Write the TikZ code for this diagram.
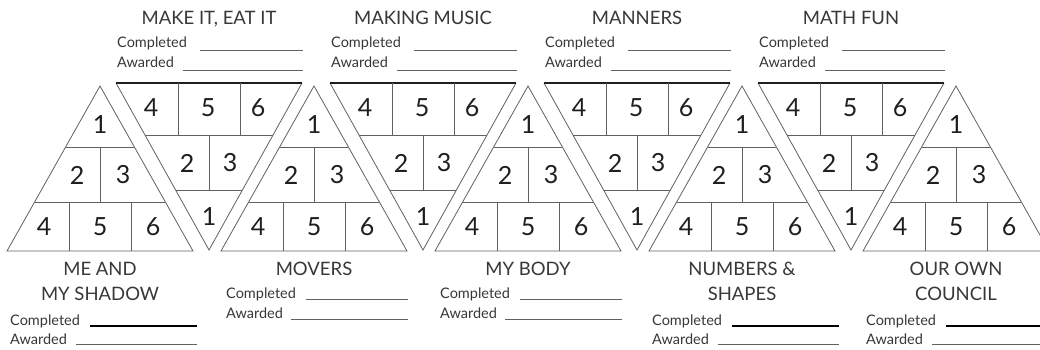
\documentclass[tikz,border=0pt]{standalone}
\usepackage{fontspec}
\setmainfont{Lato}
\definecolor{ln}{gray}{0.38}
\definecolor{tx}{gray}{0.22}
\definecolor{dg}{gray}{0.12}
\begin{document}
\begin{tikzpicture}[x=1pt,y=-1pt,
  tri/.style={draw=ln,line width=0.8pt,line join=miter},
  cell/.style={draw=ln,line width=0.8pt},
  topedge/.style={draw=dg,line width=1.6pt},
  digit/.style={text=dg,font=\fontsize{25}{25}\selectfont,inner sep=0pt},
  ttl/.style={text=tx,font=\fontsize{18.5}{18.5}\selectfont,inner sep=0pt,anchor=base},
  lab/.style={text=tx,font=\fontsize{14.5}{14.5}\selectfont,inner sep=0pt,anchor=base west},
  rule/.style={draw=ln,line width=0.8pt},
  boldrule/.style={draw=black,line width=1.5pt}]
\useasboundingbox (0,0) rectangle (1040,350);
\fill[white] (0,0) rectangle (1040,350);
\clip (0,0) rectangle (1040,350);
% upward triangles
\foreach \k in {0,...,4}{
  \pgfmathsetmacro\c{100+214*\k}
  \draw[tri] (\c-93,251) -- (\c,86) -- (\c+93,251) -- cycle;
  \draw[cell] (\c-34.4,147) -- (\c+34.4,147);
  \draw[cell] (\c-65.4,202) -- (\c+65.4,202);
  \draw[cell] (\c,147) -- (\c,202);
  \draw[cell] (\c-31,202) -- (\c-31,251);
  \draw[cell] (\c+31,202) -- (\c+31,251);
  \node[digit] (u\k a) at (\c,125) {1};
  \node[digit] (u\k b) at (\c-23,175) {2};
  \node[digit] (u\k c) at (\c+23,175) {3};
  \node[digit] (u\k d) at (\c-56,227) {4};
  \node[digit] (u\k e) at (\c,227) {5};
  \node[digit] (u\k f) at (\c+53,227) {6};
}
% downward triangles
\foreach \k in {0,...,3}{
  \pgfmathsetmacro\c{209+214*\k}
  \draw[tri] (\c-93,83) -- (\c,250) -- (\c+93,83);
  \draw[topedge] (\c-93,83) -- (\c+93,83);
  \draw[cell] (\c-64,135) -- (\c+64,135);
  \draw[cell] (\c-33.4,190) -- (\c+33.4,190);
  \draw[cell] (\c-31,83) -- (\c-31,135);
  \draw[cell] (\c+31,83) -- (\c+31,135);
  \draw[cell] (\c,135) -- (\c,190);
  \node[digit] (d\k d) at (\c-58,108) {4};
  \node[digit] (d\k e) at (\c-1,108) {5};
  \node[digit] (d\k f) at (\c+49,108) {6};
  \node[digit] (d\k b) at (\c-22,163) {2};
  \node[digit] (d\k c) at (\c+21,163) {3};
  \node[digit] (d\k a) at (\c,217) {1};
}
% top labels
\foreach \k/\t in {0/{MAKE IT, EAT IT},1/{MAKING MUSIC},2/{MANNERS},3/{MATH FUN}}{
  \pgfmathsetmacro\c{209+214*\k}
  \node[ttl] (tt\k) at (\c,25) {\t};
  \node[lab] (tc\k) at (\c-92,48) {Completed};
  \node[lab] (ta\k) at (\c-92,68) {Awarded};
  \draw[rule] (\c-9,50) -- (\c+94,50);
  \draw[rule] (\c-26,70) -- (\c+94,70);
}
% bottom labels, one line
\foreach \k/\t in {1/{MOVERS},2/{MY BODY}}{
  \pgfmathsetmacro\c{100+214*\k}
  \node[ttl] (bt\k) at (\c,275) {\t};
  \node[lab] (bc\k) at (\c-88,298) {Completed};
  \node[lab] (ba\k) at (\c-88,318) {Awarded};
  \draw[rule] (\c-8,299) -- (\c+94,299);
  \draw[rule] (\c-23,319) -- (\c+94,319);
}
% bottom labels, two lines
\foreach \k/\t/\s in {0/{ME AND}/{MY SHADOW},3/{NUMBERS \&}/{SHAPES},4/{OUR OWN}/{COUNCIL}}{
  \pgfmathsetmacro\c{100+214*\k}
  \node[ttl] (bt\k) at (\c,275) {\t};
  \node[ttl] (bs\k) at (\c,300) {\s};
  \node[lab] (bc\k) at (\c-90,325) {Completed};
  \node[lab] (ba\k) at (\c-90,344) {Awarded};
  \draw[boldrule] (\c-10,326) -- (\c+97,326);
  \draw[rule] (\c-24,344) -- (\c+97,344);
}
\end{tikzpicture}
\end{document}
